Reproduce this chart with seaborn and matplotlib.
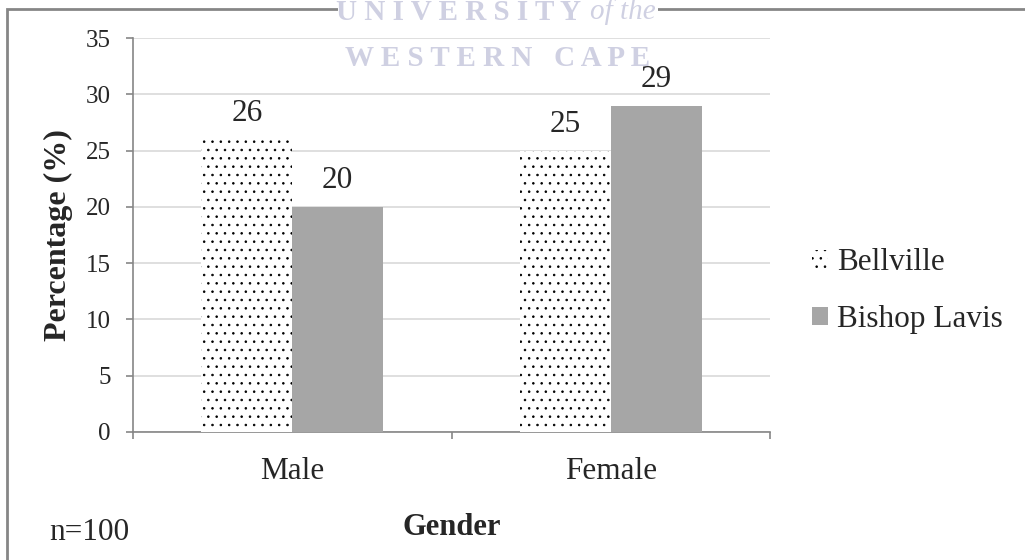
import matplotlib
matplotlib.use("Agg")
import matplotlib.pyplot as plt
import matplotlib.patches as mpatches
import seaborn as sns
import pandas as pd

genders = ["Male", "Female"]
sites = ["Bellville", "Bishop Lavis"]
bellville = [26, 25]
bishop_lavis = [20, 29]

df = pd.DataFrame({
    "Gender": genders * 2,
    "Site": [sites[0]] * 2 + [sites[1]] * 2,
    "Percentage": bellville + bishop_lavis,
})

sns.set_style("white")
plt.rcParams["font.family"] = ["Liberation Serif", "DejaVu Serif"]
plt.rcParams["hatch.linewidth"] = 0.6

GREY = "#a6a6a6"
AXIS = "#868686"
fig = plt.figure(figsize=(10.25, 5.6), dpi=100)
ax = fig.add_axes([133 / 1025, 1 - 432 / 560, 637 / 1025, 394 / 560])

sns.barplot(data=df, x="Gender", y="Percentage", hue="Site", order=genders,
            hue_order=sites, palette={"Bellville": "white", "Bishop Lavis": GREY},
            width=0.57, ax=ax, legend=False, zorder=3)

# dotted pattern for Bellville, plain grey for Bishop Lavis
for bar in ax.containers[0]:
    bar.set_hatch("..")
    bar.set_edgecolor("black")
    bar.set_linewidth(0)
for bar in ax.containers[1]:
    bar.set_edgecolor(GREY)
    bar.set_linewidth(0)

for cont in ax.containers:
    ax.bar_label(cont, fmt="%d", padding=8.5, fontsize=22.5)

ax.set_ylim(0, 35)
ax.set_xlim(-0.5, 1.5)
ax.set_yticks(range(0, 36, 5))
ax.yaxis.grid(True, color="#d9d9d9", linewidth=1.2, zorder=0)
ax.set_axisbelow(True)

for s in ["top", "right"]:
    ax.spines[s].set_visible(False)
for s in ["left", "bottom"]:
    ax.spines[s].set_color(AXIS)
    ax.spines[s].set_linewidth(1.2)

ax.tick_params(axis="y", length=5, width=1.2, color=AXIS, pad=11, labelsize=18, left=True)
ax.tick_params(axis="x", which="major", length=0, pad=18, labelsize=22.5)
ax.set_xticks([-0.5, 0.5, 1.5], minor=True)
ax.tick_params(axis="x", which="minor", length=5, width=1.2, color=AXIS, bottom=True)

ax.set_ylabel("Percentage (%)", fontsize=23, fontweight="bold")
ax.yaxis.set_label_coords(-0.094, 0.5)
ax.set_xlabel("Gender", fontsize=22, fontweight="bold")
ax.xaxis.set_label_coords(0.5, -0.206)

handles = [mpatches.Patch(facecolor="white", edgecolor="black", linewidth=0, hatch=".."),
           mpatches.Patch(facecolor=GREY, edgecolor=GREY, linewidth=0)]
fig.legend(handles, sites, loc="center left", bbox_to_anchor=(812 / 1025, 1 - 291 / 560),
           frameon=False, fontsize=22.5, handlelength=0.5, handleheight=0.5,
           handletextpad=0.3, labelspacing=0.9, borderpad=0, borderaxespad=0)

fig.text(49 / 1025, 1 - 533 / 560, "n=100", fontsize=22.5, va="center", ha="left")

# outer frame (cut at right and bottom edge)
fig.patches.append(mpatches.Rectangle((7 / 1025, -0.1), 1.2, 1 - 8.5 / 560 + 0.1,
                                      transform=fig.transFigure, fill=False,
                                      edgecolor=AXIS, linewidth=2, zorder=1))
fig.patches.append(mpatches.Rectangle((338 / 1025, 1 - 20 / 560), 320 / 1025, 20 / 560,
                                      transform=fig.transFigure, facecolor="white",
                                      edgecolor="none", zorder=2))

# watermark
WM = "#cfd0e2"
fig.text(336 / 1025, 1 - 12 / 560, "U N I V E R S I T Y", fontsize=21, fontweight="bold",
         color=WM, ha="left", va="center")
fig.text(656 / 1025, 1 - 12 / 560, "of the", fontsize=21, fontstyle="italic",
         color=WM, ha="right", va="center")
fig.text(498 / 1025, 1 - 59 / 560, "W E S T E R N   C A P E", fontsize=21, fontweight="bold",
         color=WM, ha="center", va="center")

fig.savefig("out.png", dpi=100)
